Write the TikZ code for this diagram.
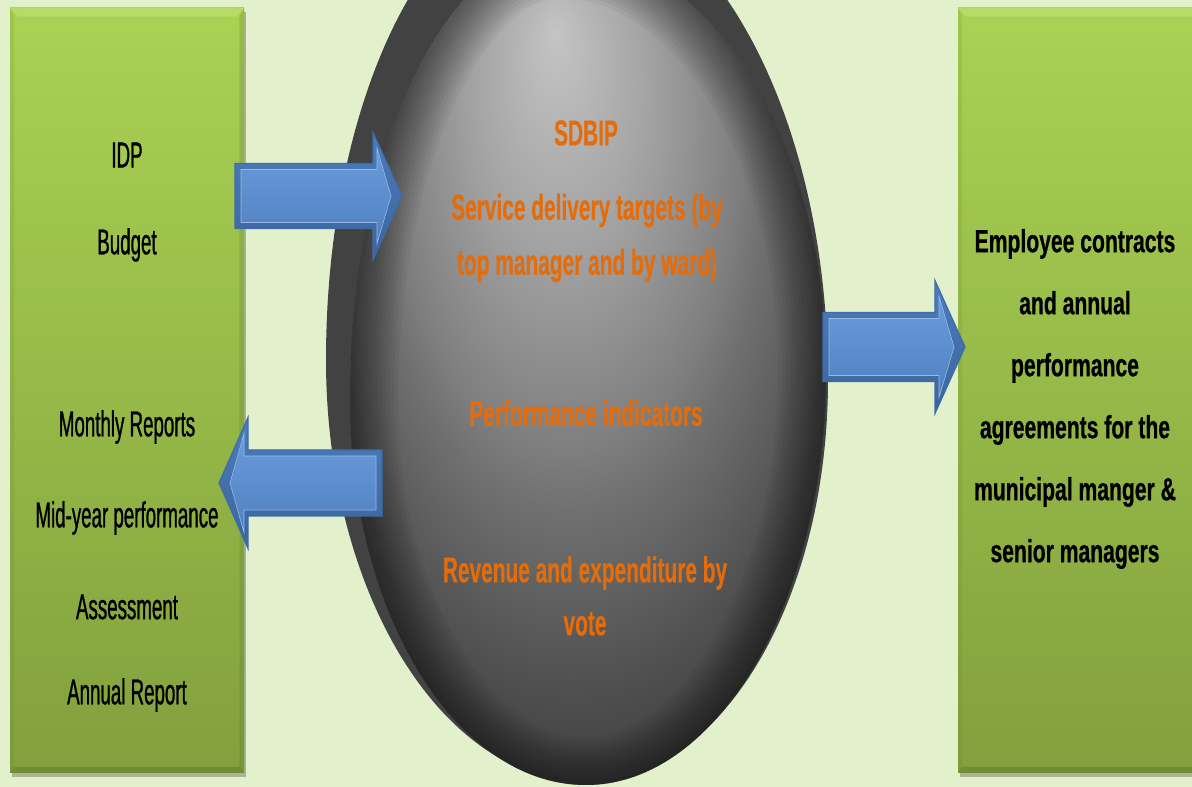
\documentclass[tikz,border=0pt]{standalone}
\usepackage{fontspec}
\setmainfont{Liberation Sans}
\newfontfamily\leftfont[FakeStretch=0.52,FakeBold=0.8]{Liberation Sans}
\newfontfamily\rightfont[FakeStretch=0.66,FakeBold=0.6]{Liberation Sans}
\newfontfamily\midfont[FakeStretch=0.58,FakeBold=0.3]{Liberation Sans}
\usetikzlibrary{shadows}
\definecolor{bgc}{HTML}{E3F0CC}
\definecolor{gtop}{HTML}{AAD253}
\definecolor{gbot}{HTML}{82A03D}
\definecolor{gbev}{HTML}{BEE070}
\definecolor{gdark}{HTML}{5E7A2A}
\definecolor{orangetxt}{HTML}{E46C0A}
\definecolor{rimc}{HTML}{424242}
\definecolor{sphA}{HTML}{C4C4C4}
\definecolor{sphB}{HTML}{A2A2A2}
\definecolor{sphC}{HTML}{7E7E7E}
\definecolor{sphD}{HTML}{707070}
\definecolor{sphE}{HTML}{4E4E4E}
\definecolor{sphF}{HTML}{404040}
\definecolor{sphG}{HTML}{353535}
\definecolor{arrTopO}{HTML}{4C7DBD}
\definecolor{arrMidO}{HTML}{7EABE4}
\definecolor{arrBotO}{HTML}{3B649C}
\definecolor{arrTopI}{HTML}{6A9BDB}
\definecolor{arrMidI}{HTML}{9CC7F5}
\definecolor{arrBotI}{HTML}{4F80C0}
\definecolor{arrLine}{HTML}{3E6CA8}
\pgfdeclareradialshading{sphereshade}{\pgfpoint{-3.45bp}{20.2bp}}{%
  color(0bp)=(sphA); color(9.5bp)=(sphB); color(18bp)=(sphC);
  color(20.5bp)=(sphD); color(28.5bp)=(sphE); color(32.5bp)=(sphF); color(40bp)=(sphG); color(50bp)=(sphG)}
\newcommand{\blkarrow}[6]{%
  \pgfmathsetmacro\arrdir{(#3>#1)?1:-1}
  \path[arrowouter] (#1,{#4+#5}) -- (#2,{#4+#5}) -- (#2,{#4+#6}) -- (#3,#4)
     -- (#2,{#4-#6}) -- (#2,{#4-#5}) -- (#1,{#4-#5}) -- cycle;
  \path[arrowinner] ({#1+6*\arrdir},{#4+#5-6}) -- ({#2+4*\arrdir},{#4+#5-6})
     -- ({#2+4*\arrdir},{#4+#6-16}) -- ({#3-11*\arrdir},#4)
     -- ({#2+4*\arrdir},{#4-#6+16}) -- ({#2+4*\arrdir},{#4-#5+6})
     -- ({#1+6*\arrdir},{#4-#5+6}) -- cycle;
}
\newcommand{\frontpath}{(586,2) .. controls (718.6,2) and (826,187.8) .. (826,417)
  .. controls (826,649) and (706.9,837) .. (560,837)
  .. controls (444,837) and (350,635.5) .. (350,387)
  .. controls (350,174.4) and (455.7,2) .. (586,2) -- cycle}
\begin{document}
\begin{tikzpicture}[x=1pt,y=1pt,
  gbox/.style={top color=gtop, bottom color=gbot, inner sep=0pt,
     minimum height=765pt, anchor=south west,
     drop shadow={shadow xshift=2pt, shadow yshift=-4pt, opacity=0.25, fill=black}},
  lefttxt/.style={font=\leftfont\fontsize{36}{43}\selectfont, text=black, inner sep=0pt},
  righttxt/.style={font=\rightfont\bfseries\fontsize{32}{62}\selectfont, text=black, align=center, inner sep=0pt},
  midtxt/.style={font=\midfont\bfseries\fontsize{36}{55}\selectfont, text=orangetxt, align=center, inner sep=0pt},
  arrowouter/.style={top color=arrTopO, middle color=arrMidO, bottom color=arrBotO, draw=arrLine, line width=1.2pt, line join=miter},
  arrowinner/.style={top color=arrTopI, middle color=arrMidI, bottom color=arrBotI, draw=arrTopI!70!white, line width=0.6pt}
]
\useasboundingbox (0,0) rectangle (1192,787);
\fill[bgc] (0,0) rectangle (1192,787);

% green boxes
\node[gbox, minimum width=234pt] (lbox) at (10,14) {};
\node[gbox, minimum width=250pt] (rbox) at (958,14) {};
\foreach \b in {lbox,rbox}{
  \fill[gbev, opacity=0.7] (\b.north west) -- (\b.north east) -- ([xshift=-8,yshift=-9]\b.north east) -- ([xshift=8,yshift=-9]\b.north west) -- cycle;
  \fill[gdark, opacity=0.25] (\b.north east) -- (\b.south east) -- ([xshift=-5,yshift=6]\b.south east) -- ([xshift=-5,yshift=-9]\b.north east) -- cycle;
  \fill[gdark, opacity=0.45] (\b.south west) -- (\b.south east) -- ([xshift=-5,yshift=6]\b.south east) -- ([xshift=4,yshift=6]\b.south west) -- cycle;
  \fill[gdark, opacity=0.15] (\b.north west) -- ([xshift=4,yshift=-9]\b.north west) -- ([xshift=4,yshift=6]\b.south west) -- (\b.south west) -- cycle;
}

% sphere: back rim and shaded front
\fill[rimc] (586,5) .. controls (719.7,5) and (828,185) .. (828,407)
  .. controls (828,677.6) and (705.8,897) .. (555,897)
  .. controls (428.5,897) and (326,686.6) .. (326,427)
  .. controls (326,193.9) and (442.4,5) .. (586,5) -- cycle;
\path[shading=sphereshade] \frontpath;
\begin{scope}
  \clip \frontpath;
  \foreach \w in {8,16,...,96}{
    \draw[black, opacity=0.04, line width=\w pt] \frontpath;
  }
\end{scope}
\coordinate (sph) at (588,400);

% block arrows
\blkarrow{235}{373}{402}{591}{32.5}{63.5}
\blkarrow{382}{248}{219}{304}{33}{65.5}
\blkarrow{823}{935}{965}{440}{34.5}{66.5}

% texts in the left box
\node[lefttxt] (idp) at (127,632) {IDP};
\node[lefttxt] (budget) at (127,542) {Budget};
\node[lefttxt] (monthly) at (127,360) {Monthly Reports};
\node[lefttxt] (midyear) at (127,269) {Mid-year performance};
\node[lefttxt] (assess) at (127,180) {Assessment};
\node[lefttxt] (annual) at (127,92) {Annual Report};

% texts in the sphere
\node[midtxt] (sdbip) at (586,654) {SDBIP};
\node[midtxt] (targets) at (587,549) {Service delivery targets (by\\top manager and by ward)};
\node[midtxt] (perf) at (586,374) {Performance indicators};
\node[midtxt, font=\midfont\bfseries\fontsize{36}{53}\selectfont] (revenue) at (585,191) {Revenue and expenditure by\\vote};

% text in the right box
\node[righttxt] (emp) at (1075,388) {Employee contracts\\and annual\\performance\\agreements for the\\municipal manger \&\\senior managers};
\end{tikzpicture}
\end{document}
